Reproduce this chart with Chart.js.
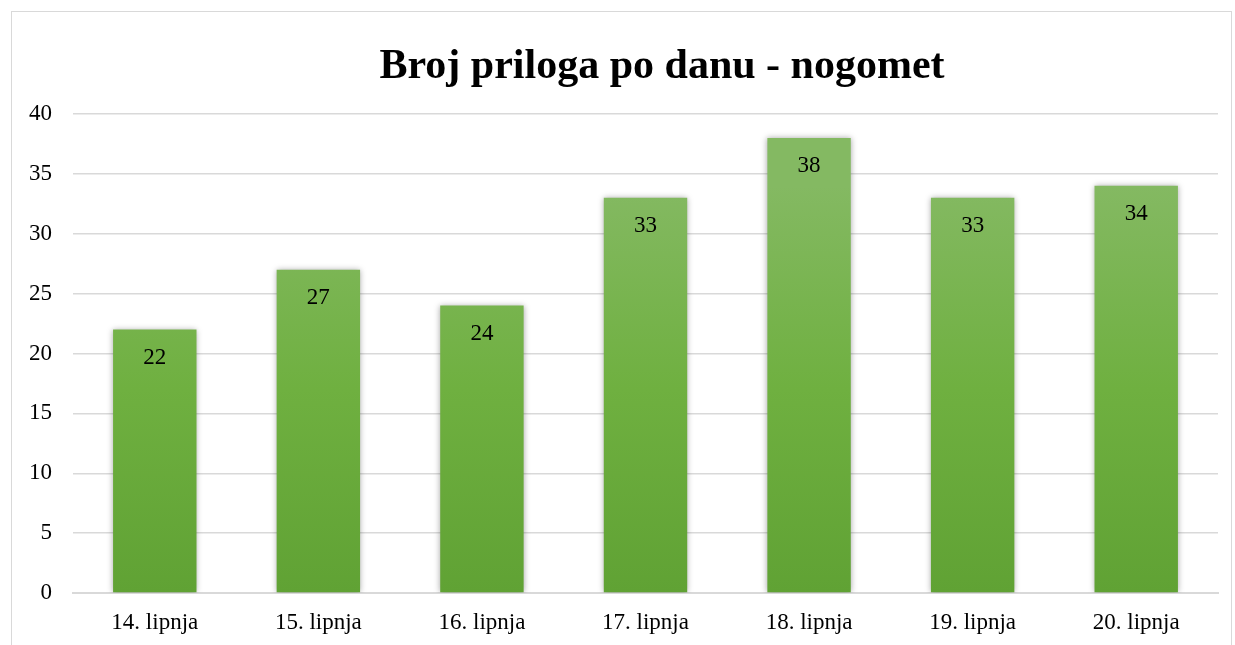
<!DOCTYPE html>
<html>
<head>
<meta charset="utf-8">
<script src="https://cdn.jsdelivr.net/npm/chart.js@4.4.0/dist/chart.umd.min.js"></script>
<style>
    html, body { margin: 0; padding: 0; background: #fff; overflow: hidden; }
    .frame {
        position: absolute; left: 11px; top: 11px; width: 1221px; height: 660px;
        border: 1px solid #d9d9d9; box-sizing: border-box;
    }
    .wrap { position: absolute; left: 0; top: 0; width: 1235px; height: 645px; }
</style>
</head>
<body>
<div class="frame"></div>
<div class="wrap"><canvas id="barChart"></canvas></div>
<script>
// Chart data
const categories = ['14. lipnja', '15. lipnja', '16. lipnja', '17. lipnja', '18. lipnja', '19. lipnja', '20. lipnja'];
const values = [22, 27, 24, 33, 38, 33, 34];
const yTicks = [0, 5, 10, 15, 20, 25, 30, 35, 40];
const chartTitle = 'Broj priloga po danu - nogomet';

const serif = "'Liberation Serif', 'Times New Roman', serif";

// Per-bar gradient + soft shadow
const barStyle = {
    id: 'barStyle',
    beforeDatasetDraw(chart, args) {
        const ctx = chart.ctx;
        args.meta.data.forEach(bar => {
            const g = ctx.createLinearGradient(0, bar.y, 0, bar.base);
            g.addColorStop(0, '#84b962');
            g.addColorStop(0.5, '#6fb040');
            g.addColorStop(1, '#60a234');
            bar.options.backgroundColor = g;
        });
        ctx.save();
        ctx.shadowColor = 'rgba(0, 0, 0, 0.35)';
        ctx.shadowBlur = 6;
        ctx.shadowOffsetX = 0;
        ctx.shadowOffsetY = 0;
    },
    afterDatasetDraw(chart) {
        chart.ctx.restore();
    }
};

// Value labels inside bar tops + title over the frame centre
const textLayer = {
    id: 'textLayer',
    afterDatasetsDraw(chart) {
        const ctx = chart.ctx;
        const meta = chart.getDatasetMeta(0);
        ctx.save();
        ctx.font = '23px ' + serif;
        ctx.fillStyle = '#000';
        ctx.textAlign = 'center';
        ctx.textBaseline = 'middle';
        meta.data.forEach((bar, i) => {
            ctx.fillText(String(values[i]), bar.x, bar.y + 28);
        });

        // title centred in the outer frame (Excel style)
        ctx.font = 'bold 42px ' + serif;
        ctx.fillText(chartTitle, 662, 67);
        ctx.restore();
    }
};

new Chart(document.getElementById('barChart'), {
    type: 'bar',
    data: {
        labels: categories,
        datasets: [{
            data: values,
            backgroundColor: '#6fb040',
            borderWidth: 0,
            barPercentage: 0.51,
            categoryPercentage: 1
        }]
    },
    options: {
        responsive: true,
        maintainAspectRatio: false,
        animation: false,
        layout: { padding: { left: 0, right: 17, top: 114, bottom: 0 } },
        plugins: {
            legend: { display: false },
            tooltip: { enabled: false },
            title: { display: false }
        },
        scales: {
            y: {
                min: 0,
                max: 40,
                afterBuildTicks(scale) {
                    scale.ticks = yTicks.map(v => ({ value: v }));
                },
                afterFit(scale) { scale.width = 73; },
                grid: { color: '#d9d9d9', lineWidth: 1.5, drawTicks: false },
                border: { display: false },
                ticks: {
                    color: '#000',
                    padding: 21,
                    font: { family: serif, size: 23 }
                }
            },
            x: {
                afterFit(scale) { scale.height = 52; },
                grid: { display: false, drawTicks: false },
                border: { display: true, color: '#d9d9d9', width: 2 },
                ticks: {
                    color: '#000',
                    padding: 16,
                    font: { family: serif, size: 23 }
                }
            }
        }
    },
    plugins: [barStyle, textLayer]
});
</script>
</body>
</html>
